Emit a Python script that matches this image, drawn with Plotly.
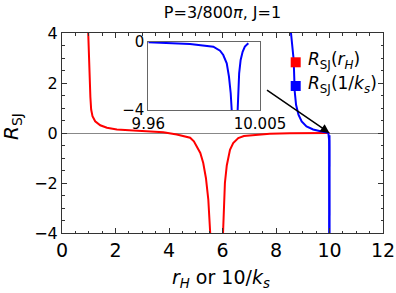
import plotly.graph_objects as go

# ---- data ----
red_x_left = [0.98, 1.03, 1.06, 1.09, 1.14, 1.24, 1.43, 1.68, 2.05, 2.67, 3.29, 3.79, 4.29, 4.79, 4.93, 5.04, 5.17, 5.28, 5.38, 5.47, 5.54]
red_y_left = [4.0, 2.1, 1.45, 0.94, 0.67, 0.47, 0.31, 0.21, 0.14, 0.10, 0.07, 0.03, -0.06, -0.19, -0.33, -0.54, -0.8, -1.2, -1.8, -2.67, -4.0]
red_x_right = [6.02, 6.05, 6.09, 6.16, 6.28, 6.4, 6.59, 6.8, 7.03, 7.4, 7.77, 8.52, 9.2, 10.0]
red_y_right = [-4.0, -3.0, -2.0, -1.3, -0.67, -0.4, -0.2, -0.12, -0.1, -0.05, -0.03, -0.01, 0.0, 0.0]

blue_x_upper = [8.56, 8.66, 8.70, 8.75, 8.84, 8.96, 9.14, 9.39, 9.70, 9.95]
blue_y_upper = [4.0, 2.93, 1.66, 1.13, 0.73, 0.46, 0.26, 0.14, 0.06, 0.01]
blue_x_left = [9.96, 9.9768, 9.9862, 9.9889, 9.9902, 9.9916, 9.9925, 9.9932, 9.9936]
blue_y_left = [-0.03, -0.13, -0.29, -0.53, -0.78, -1.27, -2.05, -3.02, -4.0]
blue_x_right = [9.9960, 9.9962, 9.9966, 9.9972, 9.9980, 9.9989, 10.0003]
blue_y_right = [-4.0, -3.02, -1.85, -1.07, -0.59, -0.29, -0.09]

x_ticks = [0, 2, 4, 6, 8, 10, 12]
y_ticks = [-4, -2, 0, 2, 4]
inset_x_ticks = [9.96, 10.005]
inset_x_labels = ["9.96", "10.005"]
inset_y_ticks = [-4, 0]

title_text = "P=3/800<i>π</i>, J=1"
xlabel = "<i>r</i><sub><i>H</i></sub> or 10/<i>k</i><sub><i>s</i></sub>"
ylabel = "<i>R</i><sub>SJ</sub>"
legend_labels = ["<i>R</i><sub>SJ</sub>(<i>r</i><sub><i>H</i></sub>)",
                 "<i>R</i><sub>SJ</sub>(1/<i>k</i><sub><i>s</i></sub>)"]

RED = "#ff0000"
BLUE = "#0000ff"
FONT = "DejaVu Sans"
W, H = 396, 293
ML, MR, MT, MB = 62, 13, 33, 60
PW, PH = W - ML - MR, H - MT - MB


def px(x):
    return (x - ML) / PW


def py(y):
    return (H - MB - y) / PH


fig = go.Figure()
lw = 2
fig.add_trace(go.Scatter(x=red_x_left, y=red_y_left, mode="lines", line=dict(color=RED, width=lw), showlegend=False))
fig.add_trace(go.Scatter(x=red_x_right, y=red_y_right, mode="lines", line=dict(color=RED, width=lw), showlegend=False))
fig.add_trace(go.Scatter(x=blue_x_upper + blue_x_left, y=blue_y_upper + blue_y_left, mode="lines",
                         line=dict(color=BLUE, width=lw), showlegend=False))
fig.add_trace(go.Scatter(x=blue_x_right, y=blue_y_right, mode="lines", line=dict(color=BLUE, width=lw), showlegend=False))

# inset
fig.add_trace(go.Scatter(x=blue_x_left, y=blue_y_left, mode="lines", line=dict(color=BLUE, width=lw),
                         xaxis="x2", yaxis="y2", showlegend=False))
fig.add_trace(go.Scatter(x=blue_x_right, y=blue_y_right, mode="lines", line=dict(color=BLUE, width=lw),
                         xaxis="x2", yaxis="y2", showlegend=False))

frame = "#333333"
axis_common = dict(showgrid=False, showline=True, linecolor=frame, linewidth=1, mirror="allticks",
                   ticks="inside", ticklen=5, tickwidth=1, tickcolor=frame, automargin=False)

fig.update_layout(
    width=W, height=H,
    margin=dict(l=ML, r=MR, t=MT, b=MB, autoexpand=False),
    paper_bgcolor="white", plot_bgcolor="white",
    font=dict(family=FONT, color="black"),
    title=dict(text=title_text, x=(ML + PW / 2) / W, xanchor="center", y=1 - 12 / H, yanchor="middle",
               yref="container", font=dict(size=16, family=FONT, color="black")),
    xaxis=dict(range=[0, 12], tickvals=x_ticks, zeroline=False,
               minor=dict(dtick=0.5, ticks="inside", ticklen=2.5, tickcolor=frame, showgrid=False),
               tickfont=dict(size=19, family=FONT), **axis_common),
    yaxis=dict(range=[-4, 4], tickvals=y_ticks, zeroline=True, zerolinecolor="#888888", zerolinewidth=1,
               minor=dict(dtick=0.5, ticks="inside", ticklen=2.5, tickcolor=frame, showgrid=False),
               tickfont=dict(size=16, family=FONT), **axis_common),
    xaxis2=dict(domain=[px(148.3), px(260)], anchor="y2", range=[9.96, 10.005], tickvals=inset_x_ticks,
                ticktext=inset_x_labels, showgrid=False, zeroline=False, showline=True, linecolor="#666666",
                mirror=True, ticks="", automargin=False, tickfont=dict(size=15, family=FONT)),
    yaxis2=dict(domain=[py(110), py(41.7)], anchor="x2", range=[-4, 0], tickvals=inset_y_ticks,
                showgrid=False, zeroline=False, showline=True, linecolor="#666666",
                mirror=True, ticks="", automargin=False, tickfont=dict(size=15, family=FONT)),
)

annotations = [
    dict(text=xlabel, xref="paper", yref="paper", x=px(221), y=py(278), showarrow=False,
         xanchor="center", yanchor="middle", font=dict(size=19, family=FONT)),
    dict(text=ylabel, xref="paper", yref="paper", x=px(12), y=py(127), showarrow=False,
         xanchor="center", yanchor="middle", textangle=-90, font=dict(size=20, family=FONT)),
    dict(x=10, y=0, xref="x", yref="y", ax=-64, ay=-44, text="", showarrow=True,
         arrowhead=2, arrowsize=1.2, arrowwidth=1.5, arrowcolor="black", standoff=0),
]
shapes = []
for i, (lab, col) in enumerate(zip(legend_labels, [RED, BLUE])):
    cy = 62.3 + i * 23.7
    shapes.append(dict(type="rect", xref="paper", yref="paper", x0=px(290.7), x1=px(300.7),
                       y0=py(cy - 5), y1=py(cy + 5), fillcolor=col, line=dict(width=0)))
    annotations.append(dict(text=lab, xref="paper", yref="paper", x=px(305.5), y=py(cy - 1.5),
                            showarrow=False, xanchor="left", yanchor="middle",
                            font=dict(size=17, family=FONT)))

fig.update_layout(annotations=annotations, shapes=shapes)
fig.write_html("out.html", config={"displayModeBar": False},
               post_script="document.body.style.margin='0';document.body.style.padding='0';")
